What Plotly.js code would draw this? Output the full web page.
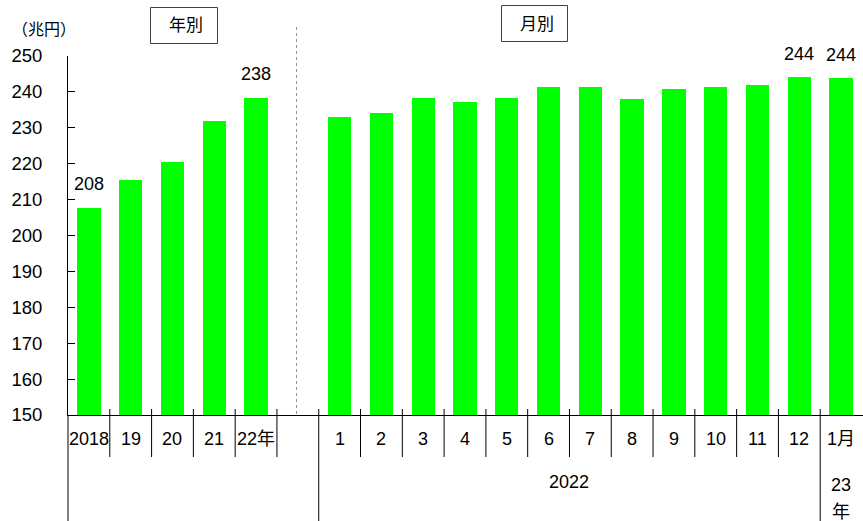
<!DOCTYPE html>
<html>
<head>
<meta charset="utf-8">
<script src="https://cdn.plot.ly/plotly-3.0.1.min.js"></script>
<style>html,body{margin:0;padding:0;overflow:hidden;background:#fff;}</style>
</head>
<body>
<div id="chart" style="width:863px;height:521px;"></div>
<script>
// ---- data ----
const annualLabels = ['2018', '19', '20', '21', '22年'];
const annualValues = [207.7, 215.5, 220.6, 231.9, 238.3];
const annualShown = ['208', '', '', '', '238'];

const monthLabels = ['1', '2', '3', '4', '5', '6', '7', '8', '9', '10', '11', '12', '1月'];
const monthValues = [233.0, 234.2, 238.4, 237.2, 238.3, 241.3, 241.4, 238.0, 240.7, 241.3, 242.0, 244.2, 243.9];
const monthShown = ['', '', '', '', '', '', '', '', '', '', '', '244', '244'];

const yTicks = [150, 160, 170, 180, 190, 200, 210, 220, 230, 240, 250];

// ---- layout helpers ----
const L = 68, T = 56, PW = 795, PH = 359;
const xr = [-0.5, 18.524];
const annualX = annualLabels.map((_, i) => i);
const monthX = monthLabels.map((_, i) => i + 6);
function px(x) { return (x - L) / PW; }
function py(y) { return (T + PH - y) / PH; }
function xp(v) { return (v - xr[0]) / (xr[1] - xr[0]); }

const FONT = 'Liberation Sans, Arial, "Noto Sans CJK JP", sans-serif';
const CJK = '"Noto Sans CJK JP", sans-serif';
const GREEN = '#00ff00';

const traces = [
  { type: 'bar', x: annualX, y: annualValues, width: 0.56, marker: { color: GREEN, line: { width: 0 } }, hoverinfo: 'none' },
  { type: 'bar', x: monthX, y: monthValues, width: 0.56, marker: { color: GREEN, line: { width: 0 } }, hoverinfo: 'none' }
];

const annotations = [];
const shapes = [];

// value labels
annualX.forEach((x, i) => { if (annualShown[i]) annotations.push({ x: x, y: annualValues[i], xref: 'x', yref: 'y', text: annualShown[i], showarrow: false, yanchor: 'bottom', yshift: 12, font: { size: 18, color: '#000', family: FONT } }); });
monthX.forEach((x, i) => { if (monthShown[i]) annotations.push({ x: x, y: monthValues[i], xref: 'x', yref: 'y', text: monthShown[i], showarrow: false, yanchor: 'bottom', yshift: 11, font: { size: 18, color: '#000', family: FONT } }); });

// category labels
annualX.forEach((x, i) => annotations.push({ x: x, y: py(439), xref: 'x', yref: 'paper', text: annualLabels[i], showarrow: false, yanchor: 'middle', font: { size: 18, color: '#000', family: FONT } }));
monthX.forEach((x, i) => annotations.push({ x: x, y: py(439), xref: 'x', yref: 'paper', text: monthLabels[i], showarrow: false, yanchor: 'middle', font: { size: 18, color: '#000', family: FONT } }));
annotations.push({ x: 11.5, y: py(482), xref: 'x', yref: 'paper', text: '2022', showarrow: false, yanchor: 'middle', font: { size: 18, color: '#000', family: FONT } });
annotations.push({ x: 18, y: py(485), xref: 'x', yref: 'paper', text: '23', showarrow: false, yanchor: 'middle', font: { size: 18, color: '#000', family: FONT } });
annotations.push({ x: 18, y: py(511.5), xref: 'x', yref: 'paper', text: '年', showarrow: false, yanchor: 'middle', font: { size: 18, color: '#000', family: FONT } });

// unit & section boxes
annotations.push({ x: px(43.5), y: py(28), xref: 'paper', yref: 'paper', text: '（兆円）', showarrow: false, xanchor: 'center', yanchor: 'middle', font: { size: 16, color: '#000', family: CJK } });
annotations.push({ x: px(185.5), y: py(26), xref: 'paper', yref: 'paper', text: '年別', showarrow: false, xanchor: 'center', yanchor: 'middle', font: { size: 17, color: '#000', family: FONT } });
annotations.push({ x: px(537), y: py(24), xref: 'paper', yref: 'paper', text: '月別', showarrow: false, xanchor: 'center', yanchor: 'middle', font: { size: 17, color: '#000', family: FONT } });
shapes.push({ type: 'rect', xref: 'paper', yref: 'paper', x0: px(150.5), x1: px(217.5), y0: py(43.5), y1: py(7.5), line: { color: '#404040', width: 1 } });
shapes.push({ type: 'rect', xref: 'paper', yref: 'paper', x0: px(501.5), x1: px(567.5), y0: py(41.5), y1: py(5.5), line: { color: '#404040', width: 1 } });

// dotted separator
shapes.push({ type: 'line', xref: 'paper', yref: 'paper', x0: px(296.5), x1: px(296.5), y0: py(27), y1: py(414), line: { color: '#909090', width: 1, dash: 'dot' } });

// category divider lines
for (let k = 0; k < 18; k++) {
  const b = k + 0.5;
  const long = (b === 5.5 || b === 17.5);
  shapes.push({ type: 'line', xref: 'paper', yref: 'paper', x0: xp(b), x1: xp(b), y0: py(409), y1: py(long ? 530 : 457), line: { color: '#000', width: 1 } });
}
shapes.push({ type: 'line', xref: 'paper', yref: 'paper', x0: 0, x1: 0, y0: py(415), y1: py(530), line: { color: '#000', width: 1 } });

const layout = {
  width: 863, height: 521,
  margin: { l: L, r: 0, t: T, b: 521 - T - PH, pad: 0 },
  paper_bgcolor: '#fff', plot_bgcolor: '#fff',
  showlegend: false,
  bargap: 0,
  font: { family: FONT, color: '#000' },
  xaxis: { range: xr, showline: true, linecolor: '#000', linewidth: 1, showticklabels: false, ticks: '', showgrid: false, zeroline: false, fixedrange: true },
  yaxis: { range: [150, 250], tickvals: yTicks, ticktext: yTicks.map(String), ticks: 'inside', ticklen: 7, tickcolor: '#000', showline: true, linecolor: '#000', linewidth: 1, showgrid: false, zeroline: false, ticklabelstandoff: 21, tickfont: { size: 18.5, color: '#000', family: FONT }, fixedrange: true },
  annotations: annotations,
  shapes: shapes
};

Plotly.newPlot('chart', traces, layout, { displayModeBar: false, staticPlot: true });
</script>
</body>
</html>
